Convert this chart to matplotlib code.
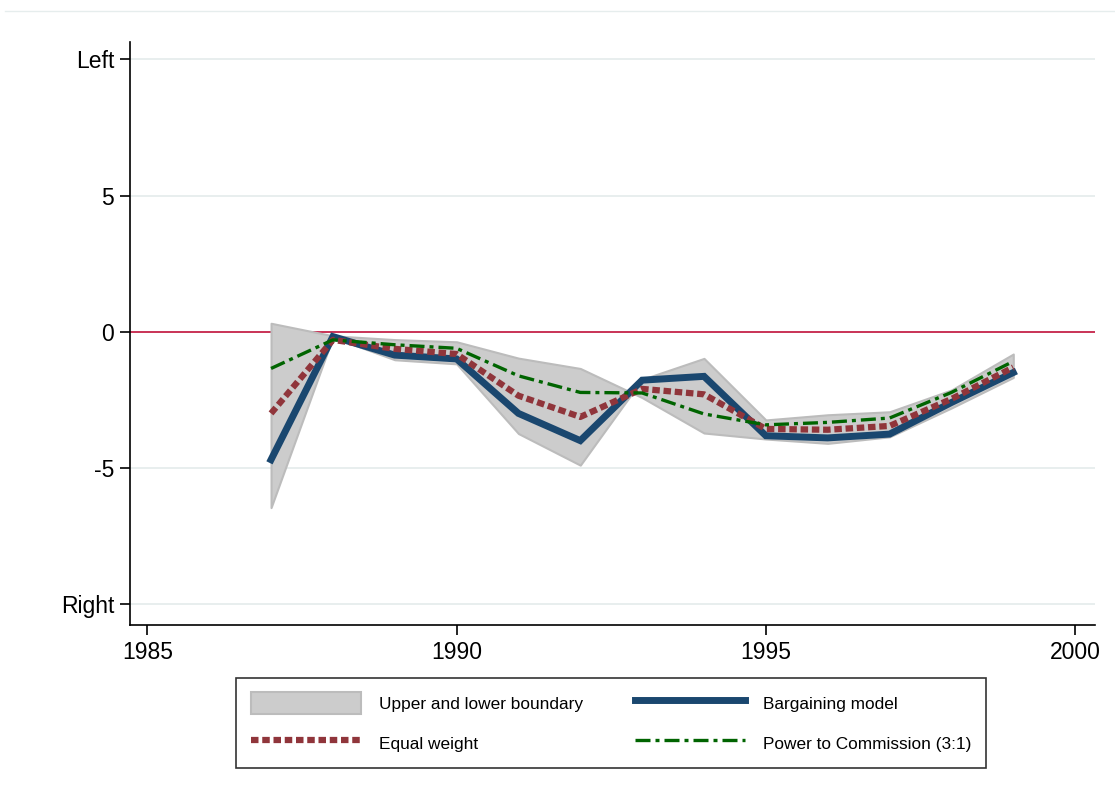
import numpy as np
import matplotlib
matplotlib.use('Agg')
import matplotlib.pyplot as plt
from matplotlib.lines import Line2D

plt.rcParams['font.family'] = ['Liberation Sans', 'DejaVu Sans']

# Daten
years = [1987, 1988, 1989, 1990, 1991, 1992, 1993, 1994, 1995, 1996, 1997, 1998, 1999]
band_a = [0.31, -0.15, -0.29, -0.37, -0.97, -1.35, -2.42, -3.72, -3.94, -4.10, -3.86, -2.80, -1.68]
band_b = [-6.46, -0.20, -1.03, -1.18, -3.74, -4.90, -1.75, -0.98, -3.24, -3.05, -2.94, -2.14, -0.82]
bargaining = [-4.70, -0.18, -0.86, -1.00, -3.00, -4.00, -1.78, -1.64, -3.82, -3.90, -3.76, -2.60, -1.50]
equal_weight = [-3.00, -0.30, -0.63, -0.82, -2.35, -3.13, -2.10, -2.30, -3.57, -3.60, -3.46, -2.47, -1.31]
commission = [-1.35, -0.30, -0.48, -0.61, -1.62, -2.23, -2.25, -3.02, -3.42, -3.33, -3.17, -2.23, -1.09]

xticks = [1985, 1990, 1995, 2000]
yticks = [10, 5, 0, -5, -10]
ytick_labels = ['Left', '5', '0', '-5', 'Right']

fig = plt.figure(figsize=(11.15, 7.96), dpi=100)
ax = fig.add_axes([0.1166, 0.2148, 0.982 - 0.1166, 0.947 - 0.2148])

# Gitterlinien
for yv in [10, 5, -5, -10]:
    ax.axhline(yv, color='#e6eded', lw=1.3, zorder=0)
ax.axhline(0, color='#c0103a', lw=1.2, zorder=1)

band = ax.fill_between(years, band_a, band_b, facecolor='#cccccc', edgecolor='#bcbcbc',
                       lw=1.5, zorder=2, label='Upper and lower boundary')
l_barg, = ax.plot(years, bargaining, color='#1a476f', lw=5, zorder=3,
                  solid_joinstyle='miter', label='Bargaining model')
l_eq, = ax.plot(years, equal_weight, color='#90353b', lw=4.5, zorder=4,
                dashes=(1.2, 0.6), label='Equal weight')
l_com, = ax.plot(years, commission, color='#006400', lw=2.4, zorder=5,
                 dashes=(4.5, 1.5, 1.2, 1.5), label='Power to Commission (3:1)')

ax.set_xlim(1984.72, 2000.32)
ax.set_ylim(-10.77, 10.63)
ax.set_xticks(xticks)
ax.set_yticks(yticks)
ax.set_yticklabels(ytick_labels)
ax.tick_params(axis='both', direction='out', length=7.5, width=1.2, labelsize=16.5,
               color='black', pad=4)

for s in ['top', 'right']:
    ax.spines[s].set_visible(False)
for s in ['left', 'bottom']:
    ax.spines[s].set_linewidth(1.2)

# feine Linie oben
fig.add_artist(Line2D([5 / 1115, 1.0], [1 - 11 / 796, 1 - 11 / 796], color='#e6eded', lw=1))

leg = fig.legend([band, l_eq, l_barg, l_com],
                 ['Upper and lower boundary', 'Equal weight', 'Bargaining model',
                  'Power to Commission (3:1)'],
                 ncol=2, loc='center', bbox_to_anchor=(0.548, 0.0917), fontsize=12.4,
                 handlelength=6.4, handleheight=1.57, handletextpad=1.05, columnspacing=3.0,
                 labelspacing=1.05, borderpad=0.85, fancybox=False, frameon=True)
leg.get_frame().set_edgecolor('black')
leg.get_frame().set_linewidth(1.2)

fig.savefig('out.png', dpi=100)
